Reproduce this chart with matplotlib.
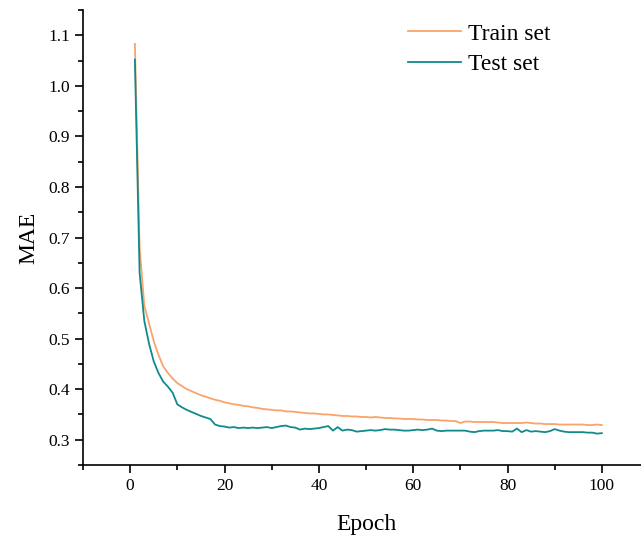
import matplotlib.pyplot as plt
from matplotlib.ticker import MultipleLocator

epochs = list(range(1, 101))

train_mae = [
    1.083, 0.680, 0.565, 0.530, 0.495, 0.468, 0.445, 0.432, 0.421, 0.412,
    0.406, 0.400, 0.396, 0.392, 0.388, 0.385, 0.382, 0.379, 0.377, 0.374,
    0.372, 0.370, 0.369, 0.367, 0.366, 0.364, 0.363, 0.361, 0.360, 0.359,
    0.358, 0.358, 0.356, 0.356, 0.355, 0.354, 0.353, 0.352, 0.352, 0.351,
    0.350, 0.350, 0.349, 0.348, 0.347, 0.347, 0.346, 0.346, 0.345, 0.345,
    0.344, 0.345, 0.344, 0.343, 0.343, 0.342, 0.342, 0.341, 0.341, 0.341,
    0.340, 0.340, 0.339, 0.339, 0.339, 0.338, 0.338, 0.337, 0.337, 0.333,
    0.336, 0.336, 0.335, 0.335, 0.335, 0.335, 0.335, 0.334, 0.333, 0.333,
    0.333, 0.333, 0.333, 0.334, 0.333, 0.332, 0.332, 0.331, 0.331, 0.331,
    0.330, 0.330, 0.330, 0.330, 0.330, 0.330, 0.329, 0.329, 0.330, 0.329,
]

test_mae = [
    1.052, 0.630, 0.535, 0.490, 0.455, 0.432, 0.415, 0.405, 0.393, 0.370,
    0.364, 0.359, 0.355, 0.351, 0.347, 0.344, 0.341, 0.330, 0.327, 0.326,
    0.324, 0.325, 0.323, 0.324, 0.323, 0.324, 0.323, 0.324, 0.325, 0.323,
    0.325, 0.327, 0.328, 0.325, 0.324, 0.320, 0.322, 0.321, 0.322, 0.323,
    0.325, 0.327, 0.318, 0.325, 0.318, 0.320, 0.319, 0.316, 0.317, 0.318,
    0.319, 0.318, 0.319, 0.321, 0.320, 0.320, 0.319, 0.318, 0.318, 0.319,
    0.320, 0.319, 0.320, 0.322, 0.318, 0.317, 0.318, 0.318, 0.318, 0.318,
    0.318, 0.316, 0.315, 0.317, 0.318, 0.318, 0.318, 0.319, 0.317, 0.317,
    0.316, 0.322, 0.315, 0.319, 0.316, 0.317, 0.316, 0.315, 0.317, 0.321,
    0.318, 0.316, 0.315, 0.315, 0.315, 0.315, 0.314, 0.314, 0.312, 0.313,
]

plt.rcParams['font.family'] = ['Liberation Serif', 'DejaVu Serif']

fig = plt.figure(figsize=(6.41, 5.37), dpi=100)
ax = fig.add_axes([83/641, 72/537, 566/641, 455/537])

ax.plot(epochs, train_mae, color='#FBA36A', lw=1.3, label='Train set')
ax.plot(epochs, test_mae, color='#108A8A', lw=1.3, label='Test set')

ax.set_xlim(-10, 110)
ax.set_ylim(0.25, 1.15)
ax.xaxis.set_major_locator(MultipleLocator(20))
ax.xaxis.set_minor_locator(MultipleLocator(10))
ax.yaxis.set_major_locator(MultipleLocator(0.1))
ax.yaxis.set_minor_locator(MultipleLocator(0.05))
ax.set_xticks([0, 20, 40, 60, 80, 100])
ax.set_yticks([0.3, 0.4, 0.5, 0.6, 0.7, 0.8, 0.9, 1.0, 1.1])

for s in ['top', 'right']:
    ax.spines[s].set_visible(False)
for s in ['left', 'bottom']:
    ax.spines[s].set_linewidth(1.2)

ax.tick_params(which='major', direction='out', length=6, width=1.2, labelsize=12.5, colors='black')
ax.tick_params(which='minor', direction='out', length=3.5, width=1.2)

ax.set_xlabel('Epoch', fontsize=17, labelpad=14)
ax.set_ylabel('MAE', fontsize=17, labelpad=6)

ax.legend(loc='upper left', bbox_to_anchor=(0.537, 1.018), frameon=False, fontsize=17,
          handlelength=2.25, handletextpad=0.3, labelspacing=0.38)

fig.savefig('out.png', dpi=100)
